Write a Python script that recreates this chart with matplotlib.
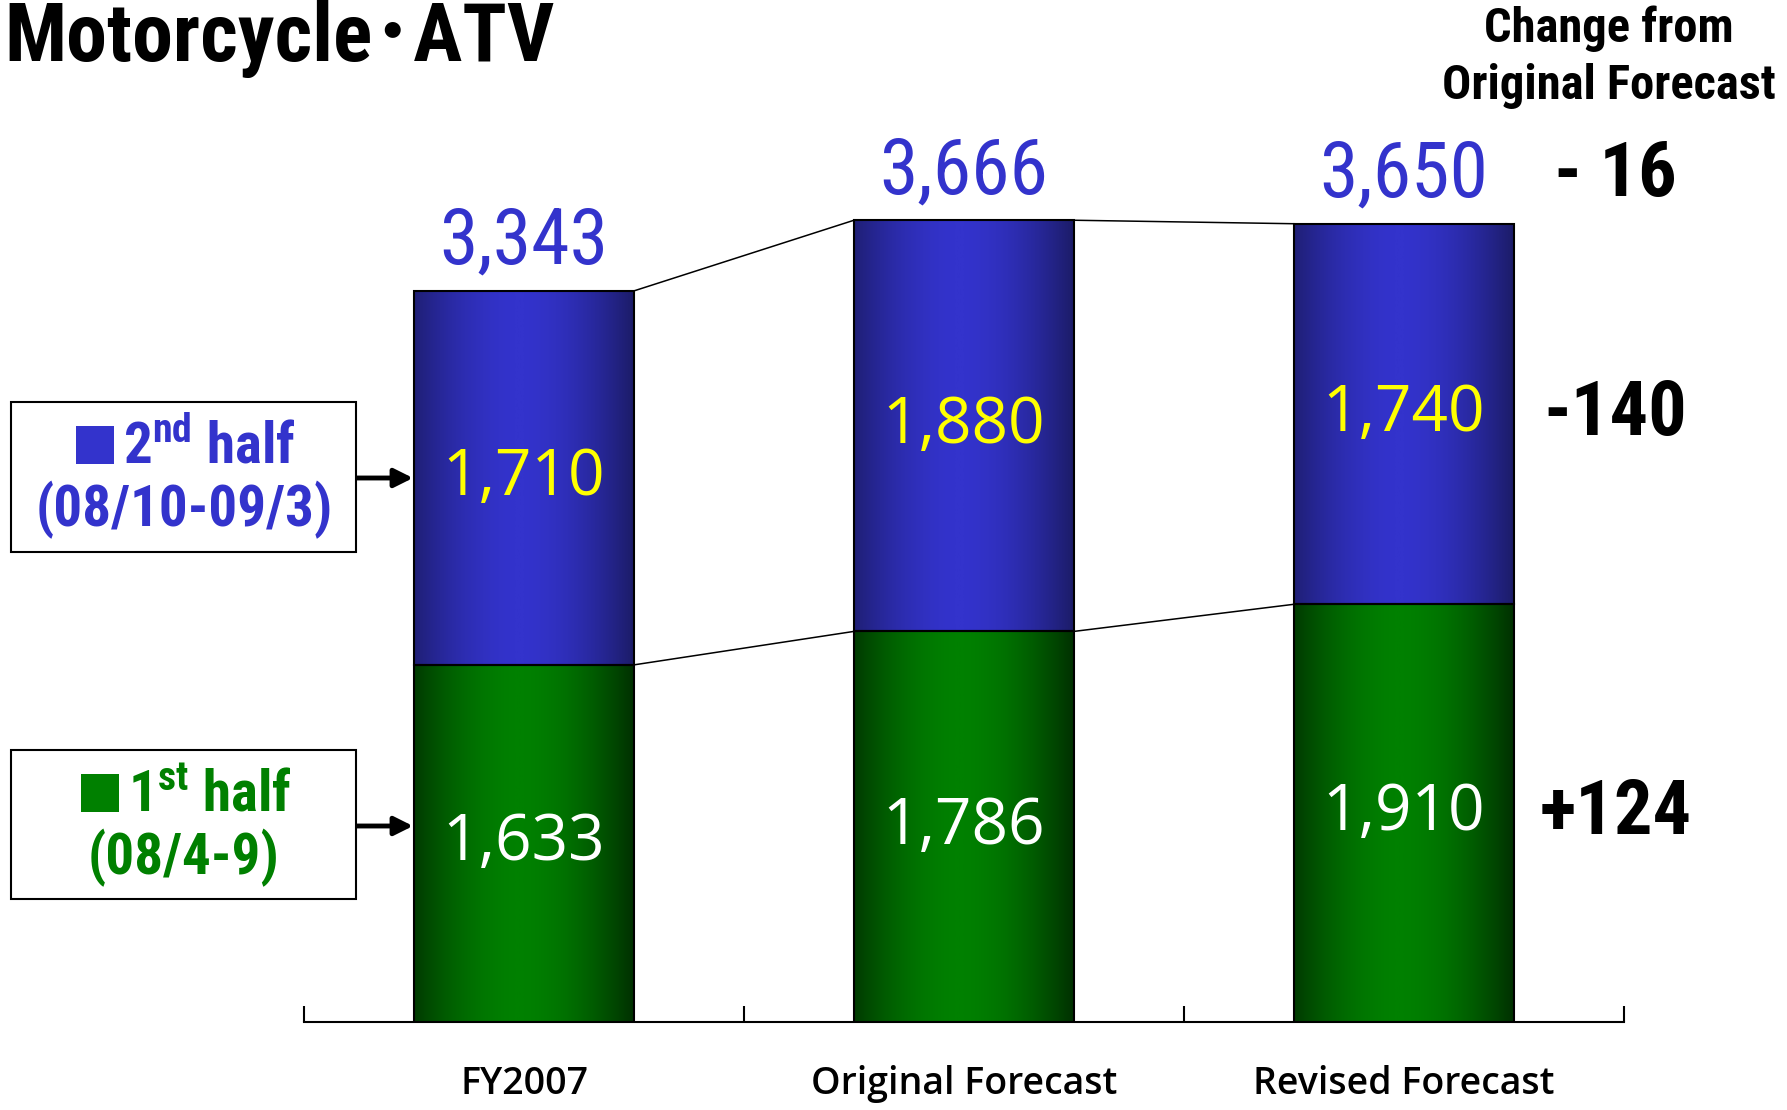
import numpy as np
import matplotlib
matplotlib.use("Agg")
import matplotlib.pyplot as plt
from matplotlib.patches import Rectangle, FancyArrowPatch
from matplotlib.colors import LinearSegmentedColormap

# ---- data ----
categories = ["FY2007", "Original Forecast", "Revised Forecast"]
first_half = [1633, 1786, 1910]
second_half = [1710, 1880, 1740]
totals = [3343, 3666, 3650]
changes_total = "- 16"
changes_second = "-140"
changes_first = "+124"
title = "Motorcycle\uff65ATV"
legend_second = ["$\\mathbf{2^{nd}}$ half", "(08/10-09/3)"]
legend_first = ["$\\mathbf{1^{st}}$ half", "(08/4-9)"]
change_header = ["Change from", "Original Forecast"]

BLUE = "#3333CC"
GREEN = "#008000"
COND = ["Roboto Condensed", "Noto Sans CJK JP", "DejaVu Sans"]
OPEN = ["Open Sans", "DejaVu Sans"]

plt.rcParams["mathtext.fontset"] = "custom"
plt.rcParams["mathtext.bf"] = "Roboto Condensed:bold"
plt.rcParams["mathtext.rm"] = "Roboto Condensed"

W, H = 1787, 1110
fig = plt.figure(figsize=(W / 100, H / 100), dpi=100)
fig.patch.set_facecolor("white")


def fx(p):
    return p / W


def fy(p):
    return 1 - p / H


ax = fig.add_axes([fx(304), 88 / H, 1320 / W, (H - 88) / H])
ax.set_facecolor("none")
YMAX = 4673
x = np.arange(len(categories))
bw = 0.5

bars1 = ax.bar(x, first_half, width=bw, facecolor="none", edgecolor="black", linewidth=1.5, zorder=2)
bars2 = ax.bar(x, second_half, width=bw, bottom=first_half, facecolor="none", edgecolor="black",
               linewidth=1.5, zorder=2)

# horizontal gradient fills
u = np.linspace(0, 1, 256)
t = np.clip(1 - np.abs((u - 0.48) / 0.52) ** 1.8, 0, 1)
grad = t[np.newaxis, :]
cm_blue = LinearSegmentedColormap.from_list("b", ["#1C1C68", "#3333CC"])
cm_green = LinearSegmentedColormap.from_list("g", ["#003000", "#008000"])
for bars, cmap in ((bars1, cm_green), (bars2, cm_blue)):
    for p in bars:
        bx, by = p.get_x(), p.get_y()
        im = ax.imshow(grad, extent=[bx, bx + p.get_width(), by, by + p.get_height()],
                       cmap=cmap, aspect="auto", origin="lower", zorder=1, vmin=0, vmax=1)
        im.set_clip_path(p)

# connector lines
for i in range(len(categories) - 1):
    ax.plot([x[i] + bw / 2, x[i + 1] - bw / 2], [totals[i], totals[i + 1]], color="black", lw=1.1, zorder=3)
    ax.plot([x[i] + bw / 2, x[i + 1] - bw / 2], [first_half[i], first_half[i + 1]], color="black", lw=1.1,
            zorder=3)

# value labels
for i in range(len(categories)):
    ax.text(x[i], first_half[i] / 2, f"{first_half[i]:,}", ha="center", va="center",
            color="white", fontsize=46, family=OPEN, zorder=4)
    ax.text(x[i], first_half[i] + second_half[i] / 2, f"{second_half[i]:,}", ha="center", va="center",
            color="#FFFF00", fontsize=46, family=OPEN, zorder=4)
    ax.annotate(f"{totals[i]:,}", xy=(x[i], totals[i]), xytext=(0, 35), textcoords="offset points",
                ha="center", va="center", color=BLUE, fontsize=56, family=COND)

# change column
ax.annotate(changes_total, xy=(2.48, totals[2]), xytext=(0, 35), textcoords="offset points",
            ha="center", va="center", color="black", fontsize=55, fontweight="bold", family=COND,
            annotation_clip=False)
ax.text(2.48, first_half[2] + second_half[2] / 2, changes_second, ha="center", va="center",
        color="black", fontsize=55, fontweight="bold", family=COND, clip_on=False)
ax.text(2.48, first_half[2] / 2, changes_first, ha="center", va="center",
        color="black", fontsize=55, fontweight="bold", family=COND, clip_on=False)

ax.set_xlim(-0.5, 2.5)
ax.set_ylim(0, YMAX)
for s in ("left", "right", "top"):
    ax.spines[s].set_visible(False)
ax.spines["bottom"].set_linewidth(1.5)
ax.set_yticks([])
ax.set_xticks(x)
ax.set_xticklabels(categories, fontsize=27, fontweight=600, family=OPEN)
ax.set_xticks([-0.5, 0.5, 1.5, 2.5], minor=True)
ax.tick_params(axis="x", which="major", length=0, pad=31)
ax.tick_params(axis="x", which="minor", direction="in", length=11.5, width=1.5)

# title and header
fig.text(fx(4), fy(61), title, ha="left", va="baseline", fontsize=59, fontweight="bold", family=COND)
fig.text(fx(1609), fy(42), change_header[0], ha="center", va="baseline", fontsize=35,
         fontweight="bold", family=COND)
fig.text(fx(1609), fy(99), change_header[1], ha="center", va="baseline", fontsize=35,
         fontweight="bold", family=COND)

# legend boxes with arrows
for (x0, y0, x1, y1), lines, col, ay, sqx, tx in (
        ((11, 402, 356, 552), legend_second, BLUE, 478, 76, 123),
        ((11, 750, 356, 899), legend_first, GREEN, 826, 81, 128)):
    fig.patches.append(Rectangle((fx(x0), fy(y1)), fx(x1 - x0), (y1 - y0) / H, transform=fig.transFigure,
                                 facecolor="white", edgecolor="black", linewidth=1.5))
    cy = (y0 + y1) / 2
    # legend marker square
    fig.patches.append(Rectangle((fx(sqx), fy(cy - 13)), fx(38), 38 / H, transform=fig.transFigure,
                                 facecolor=col, edgecolor="none"))
    fig.text(fx(tx), fy(cy - 13), lines[0], ha="left", va="baseline", fontsize=41, fontweight="bold",
             color=col, family=COND)
    fig.text(fx(184), fy(cy + 33), lines[1], ha="center", va="center", fontsize=41, fontweight="bold",
             color=col, family=COND)
    fig.add_artist(FancyArrowPatch((fx(x1), fy(ay)), (fx(413), fy(ay)),
                                   transform=fig.transFigure, arrowstyle="-|>",
                                   mutation_scale=28, lw=3.5, color="black",
                                   shrinkA=0, shrinkB=0))

fig.savefig("out.png", dpi=100, facecolor="white")
